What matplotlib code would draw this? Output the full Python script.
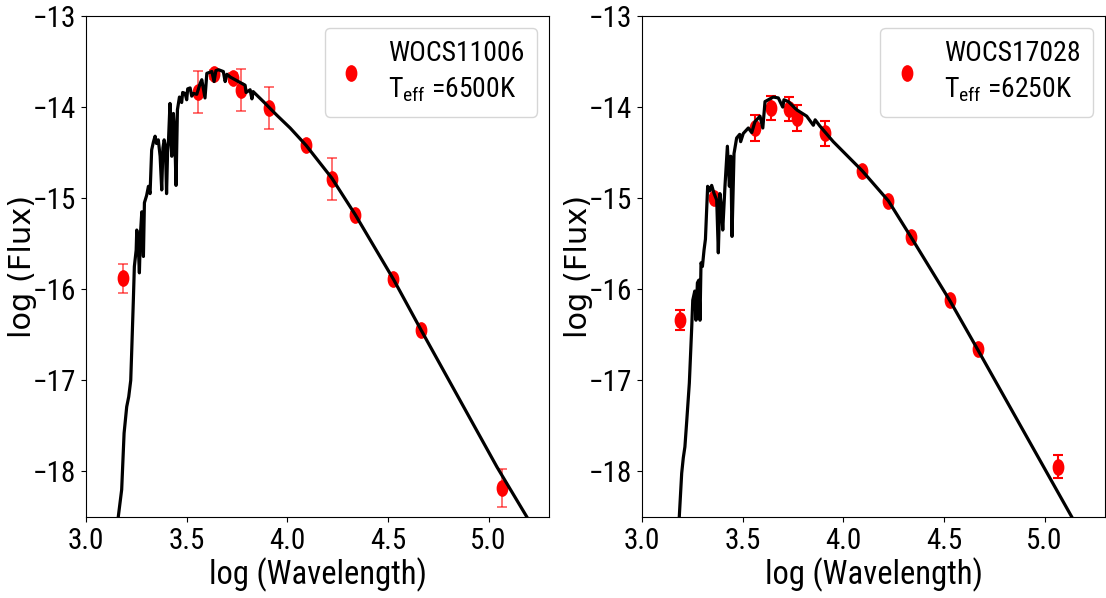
import matplotlib
matplotlib.use("Agg")
import matplotlib.pyplot as plt
from matplotlib.path import Path
from matplotlib.transforms import Affine2D

# photometric points: log(wavelength), log(flux), error
star1_x = [3.185, 3.558, 3.638, 3.729, 3.769, 3.910, 4.093, 4.221, 4.337, 4.527, 4.665, 5.066]
star1_y = [-15.88, -13.83, -13.64, -13.68, -13.81, -14.01, -14.42, -14.79, -15.18, -15.89, -16.45, -18.18]
star1_err = [0.16, 0.23, 0.05, 0.05, 0.23, 0.23, 0.03, 0.23, 0.03, 0.03, 0.03, 0.21]

star2_x = [3.189, 3.358, 3.561, 3.641, 3.732, 3.770, 3.909, 4.094, 4.224, 4.337, 4.528, 4.667, 5.067]
star2_y = [-16.34, -15.00, -14.23, -14.01, -14.02, -14.12, -14.29, -14.70, -15.03, -15.43, -16.12, -16.66, -17.95]
star2_err = [0.11, 0.02, 0.14, 0.135, 0.135, 0.14, 0.14, 0.02, 0.02, 0.02, 0.02, 0.02, 0.125]

# model spectra
model1_x = [3.160, 3.177, 3.189, 3.202, 3.212, 3.222, 3.227, 3.235, 3.240, 3.249, 3.252, 3.258,
            3.265, 3.270, 3.277, 3.285, 3.290, 3.301, 3.310, 3.318, 3.326, 3.335, 3.343, 3.350,
            3.359, 3.368, 3.376, 3.382, 3.388, 3.394, 3.400, 3.405, 3.409, 3.417, 3.421, 3.426,
            3.434, 3.440, 3.447, 3.454, 3.464, 3.475, 3.480, 3.492, 3.500, 3.505, 3.517, 3.525,
            3.533, 3.550, 3.567, 3.575, 3.591, 3.600, 3.625, 3.636, 3.645, 3.658, 3.682, 3.691,
            3.700, 3.716, 3.757, 3.790, 3.795, 3.815, 3.824, 3.830, 3.881, 3.948, 4.014, 4.093,
            4.221, 4.337, 4.527, 4.665, 5.041, 5.190]
model1_y = [-18.50, -18.20, -17.58, -17.29, -17.18, -17.00, -16.67, -16.12, -15.75, -15.57, -15.35, -15.45,
            -15.82, -15.40, -15.15, -15.64, -15.05, -14.97, -14.87, -14.95, -14.47, -14.38, -14.32, -14.40,
            -14.36, -14.54, -14.91, -14.45, -14.36, -14.42, -14.95, -14.50, -14.40, -13.96, -14.20, -14.54,
            -14.07, -14.25, -14.86, -14.03, -13.89, -13.95, -13.84, -13.85, -13.92, -13.80, -13.79, -13.88,
            -13.85, -13.86, -13.74, -13.70, -13.90, -13.63, -13.61, -13.72, -13.60, -13.59, -13.61, -13.72,
            -13.64, -13.67, -13.72, -13.76, -13.84, -13.81, -13.91, -13.83, -13.94, -14.09, -14.23, -14.42,
            -14.78, -15.18, -15.89, -16.45, -17.95, -18.50]

model2_x = [3.185, 3.197, 3.205, 3.213, 3.222, 3.235, 3.247, 3.252, 3.262, 3.268, 3.275,
            3.282, 3.288, 3.293, 3.300, 3.308, 3.315, 3.321, 3.326, 3.336, 3.346, 3.358, 3.371,
            3.379, 3.387, 3.395, 3.401, 3.412, 3.424, 3.434, 3.441, 3.447, 3.457, 3.470,
            3.485, 3.490, 3.503, 3.528, 3.545, 3.561, 3.586, 3.600, 3.611, 3.652, 3.677,
            3.699, 3.705, 3.727, 3.768, 3.818, 3.851, 3.860, 3.884, 3.950, 4.094, 4.224,
            4.337, 4.528, 4.667, 5.135]
model2_y = [-18.50, -18.02, -17.85, -17.73, -17.45, -17.03, -16.41, -16.12, -16.02, -16.34, -15.93,
            -15.90, -16.34, -15.71, -15.75, -15.57, -15.45, -15.13, -14.87, -14.92, -14.86, -14.95, -15.02,
            -15.60, -14.95, -15.10, -15.35, -14.87, -14.43, -14.87, -14.54, -15.42, -14.51, -14.34,
            -14.30, -14.38, -14.29, -14.23, -14.28, -14.16, -14.10, -14.23, -13.94, -13.89, -13.90,
            -14.00, -13.92, -13.94, -14.03, -14.10, -14.20, -14.14, -14.21, -14.38, -14.70, -15.03,
            -15.43, -16.12, -16.66, -18.50]

labels = ["WOCS11006\n$\\mathregular{T_{eff}}$ =6500K",
          "WOCS17028\n$\\mathregular{T_{eff}}$ =6250K"]

narrow = ["Roboto Condensed", "DejaVu Sans"]
plt.rcParams["font.family"] = narrow

# squashed dot, as in the original figure
ellipse = Affine2D().scale(0.68, 1.0).transform_path(Path.unit_circle())


def draw_panel(ax, px, py, perr, mx, my, label, ecol, elw):
    ax.errorbar(px, py, yerr=perr, fmt="none", ecolor=ecol, elinewidth=elw,
                capsize=3.5, capthick=elw)
    ax.plot(px, py, ls="none", marker=ellipse, ms=11, color="red", label=label)
    ax.plot(mx, my, color="black", lw=2.3)
    ax.set_xlim(3.0, 5.3)
    ax.set_ylim(-18.5, -13)
    ax.set_xticks([3.0, 3.5, 4.0, 4.5, 5.0])
    ax.set_yticks([-18, -17, -16, -15, -14, -13])
    ax.tick_params(labelsize=21)
    ax.set_xlabel("log (Wavelength)", fontsize=23.5, labelpad=2)
    ax.set_ylabel("log (Flux)", fontsize=22, family="DejaVu Sans")
    ax.yaxis.set_label_coords(-0.106, 0.5)
    leg = ax.legend(loc="upper right", fontsize=20, handlelength=1.0, handletextpad=0.85,
                    numpoints=1, borderaxespad=0.42, borderpad=0.45)
    for t in leg.get_texts():
        t.set_linespacing(1.4)


fig = plt.figure(figsize=(11.06, 5.98), dpi=100)
ax1 = fig.add_axes([0.0778, 0.1355, 0.4186, 0.8378])
ax2 = fig.add_axes([0.5805, 0.1355, 0.4186, 0.8378])

draw_panel(ax1, star1_x, star1_y, star1_err, model1_x, model1_y, labels[0], (1, 0, 0, 0.6), 1.3)
draw_panel(ax2, star2_x, star2_y, star2_err, model2_x, model2_y, labels[1], "red", 1.5)

fig.savefig("out.png", dpi=100)
